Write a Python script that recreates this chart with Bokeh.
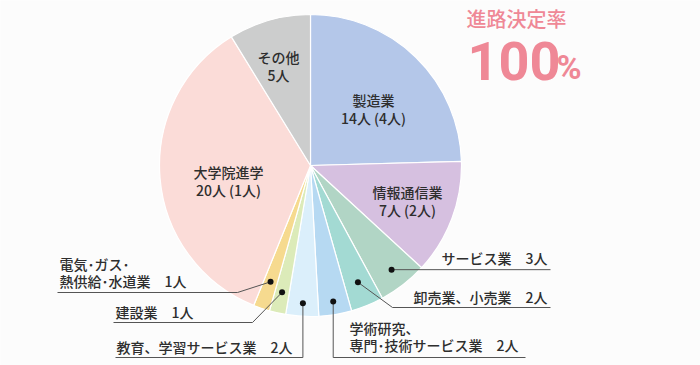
import math
from bokeh.plotting import figure
from bokeh.models import Range1d, ColumnDataSource
from bokeh.core.properties import value
from bokeh.embed import file_html
from bokeh.resources import INLINE

# ---- data ----
categories = ["製造業", "情報通信業", "サービス業", "卸売業、小売業",
              "学術研究、専門・技術サービス業", "教育、学習サービス業",
              "建設業", "電気・ガス・熱供給・水道業", "大学院進学", "その他"]
counts = [14, 7, 3, 2, 2, 2, 1, 1, 20, 5]
colors = ["#b4c7e9", "#d6c0e0", "#b1d5c5", "#a3dad3", "#b6d9f2",
          "#dbeffb", "#dcebb9", "#f6da8f", "#fbdcd8", "#cccdcd"]

inner_labels = {
    "製造業": ["製造業", "14人 (4人)"],
    "情報通信業": ["情報通信業", "7人 (2人)"],
    "大学院進学": ["大学院進学", "20人 (1人)"],
    "その他": ["その他", "5人"],
}
outer_labels = {
    "サービス業": ["サービス業　3人"],
    "卸売業、小売業": ["卸売業、小売業　2人"],
    "学術研究、専門・技術サービス業": ["学術研究、", "専門･技術サービス業　2人"],
    "教育、学習サービス業": ["教育、学習サービス業　2人"],
    "建設業": ["建設業　1人"],
    "電気・ガス・熱供給・水道業": ["電気･ガス･", "熱供給･水道業　1人"],
}
title_text = "進路決定率"
rate_text = "100"

# ---- layout ----
W, H = 700, 365
CX, CY, R = 310, 165, 151
FONT = value("'Noto Sans CJK JP Medium', 'Noto Sans CJK JP'")
TXT = "#2e2e2e"
PINK = "#ef8896"

p = figure(width=W, height=H, output_backend="svg", toolbar_location=None,
           x_range=Range1d(0, W), y_range=Range1d(-H, 0),
           min_border=0, background_fill_color="#fcfcfc", border_fill_color="#fcfcfc")
p.axis.visible = False
p.grid.visible = False
p.outline_line_color = None

total = sum(counts)
starts, ends, mids = [], [], []
cum = 0
for c in counts:
    a0 = math.pi / 2 - 2 * math.pi * cum / total
    cum += c
    a1 = math.pi / 2 - 2 * math.pi * cum / total
    starts.append(a1)
    ends.append(a0)
    mids.append((a0 + a1) / 2)

src = ColumnDataSource(dict(start=starts, end=ends, color=colors))
p.wedge(x=CX, y=-CY, radius=R, radius_units="screen", start_angle="start", end_angle="end",
        fill_color="color", line_color="white", line_width=1.2, source=src)

# inner labels: (center x, first line y)
inner_pos = {"製造業": (373, 99), "情報通信業": (407, 191),
             "大学院進学": (228, 171), "その他": (278, 56)}
for k, lines in inner_labels.items():
    x, y = inner_pos[k]
    for i, t in enumerate(lines):
        p.text(x=[x], y=[-(y + 18 * i)], text=[t], text_font=FONT, text_font_size="14px",
               text_color=TXT, text_align="center", text_baseline="middle")

# outer labels with leader lines
outer_layout = {
    "サービス業": dict(r=132, path=[(None, "dy"), (550, "dy")], text=(547, 257), align="right"),
    "卸売業、小売業": dict(r=126, path=[(392, 307), (550, 307)], text=(547, 296), align="right"),
    "学術研究、専門・技術サービス業": dict(r=138, path=[("dx", 357), (525, 357)], text=(349, 327), align="left"),
    "教育、学習サービス業": dict(r=138, path=[("dx", 357), (115, 357)], text=(116, 346), align="left"),
    "建設業": dict(r=130, path=[(252, 322), (113, 322)], text=(115, 311), align="left"),
    "電気・ガス・熱供給・水道業": dict(r=123, path=[(237, 292), (57, 292)], text=(59, 263), align="left"),
}
for k, lines in outer_labels.items():
    idx = categories.index(k)
    L = outer_layout[k]
    dx = CX + L["r"] * math.cos(mids[idx])
    dy = CY - L["r"] * math.sin(mids[idx])
    xs, ys = [dx], [dy]
    for px, py in L["path"]:
        xs.append(dx if px == "dx" else px if px is not None else dx)
        ys.append(dy if py == "dy" else py)
    p.line(x=xs, y=[-v for v in ys], line_color="#555555", line_width=1)
    p.scatter(x=[dx], y=[-dy], size=6, fill_color="#111111", line_color=None)
    tx, ty = L["text"]
    for i, t in enumerate(lines):
        p.text(x=[tx], y=[-(ty + 17 * i)], text=[t], text_font=FONT, text_font_size="14px",
               text_color=TXT, text_align=L["align"], text_baseline="middle")

# title
p.text(x=[516], y=[-18], text=[title_text], text_font=FONT, text_font_size="20px",
       text_color=PINK, text_align="center", text_baseline="middle")
p.text(x=[467], y=[-60], text=[rate_text], text_font=value("Roboto"),
       text_font_size="54px", text_font_style="bold",
       text_color=PINK, text_align="left", text_baseline="middle")
p.text(x=[556], y=[-66], text=["%"], text_font=value("Roboto"),
       text_font_size="34px", text_font_style="bold",
       text_color=PINK, text_align="left", text_baseline="middle")

open("out.html", "w").write(file_html(p, INLINE))
